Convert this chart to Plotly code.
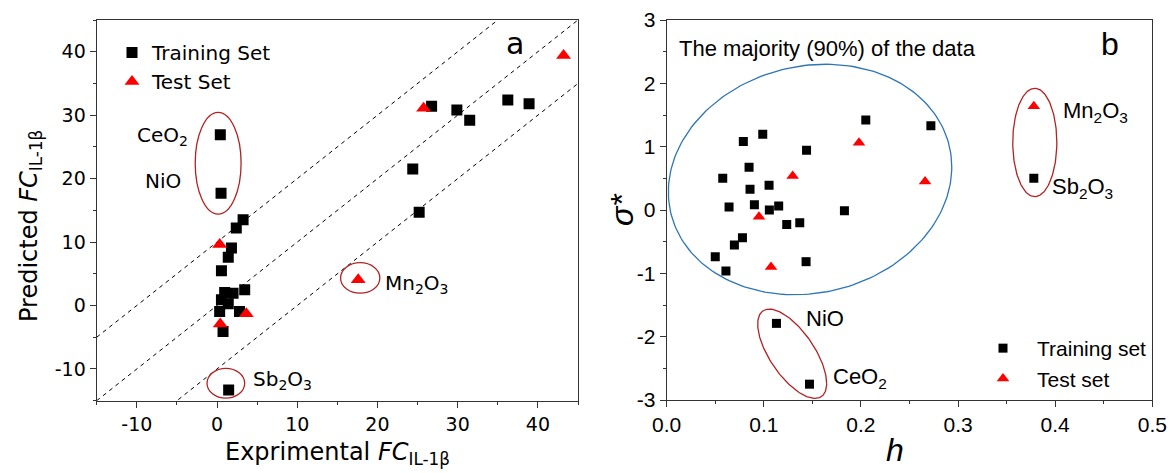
import numpy as np
import plotly.graph_objects as go

# ---------------- Panel a data ----------------
a_train_x = [0.41, 0.5, 3.25, 2.4, 1.8, 1.4, 0.55, 3.45, 2.0, 0.95, 0.55, 1.4, 0.33, 2.8, 0.75, 1.45,
             26.75, 29.9, 31.5, 36.25, 38.9, 24.4, 25.2]
a_train_y = [26.9, 17.7, 13.5, 12.2, 9.05, 7.6, 5.5, 2.5, 1.95, 2.05, 0.9, 0.27, -0.95, -0.95, -4.1, -13.3,
             31.4, 30.8, 29.2, 32.4, 31.8, 21.5, 14.7]
a_test_x = [0.33, 3.65, 0.4, 17.6, 25.75, 43.2]
a_test_y = [9.6, -1.3, -2.9, 4.05, 31.1, 39.4]
a_line_offsets = [10, 0, -10]
a_line_x = [-15, 45]
a_ticks = [-10, 0, 10, 20, 30, 40]
a_ticktext = ["-10", "0", "10", "20", "30", "40"]

# ---------------- Panel b data ----------------
b_train_h = [0.0989, 0.0789, 0.144, 0.0848, 0.0577, 0.0858, 0.1054, 0.0642, 0.0903, 0.1057, 0.1153,
             0.1236, 0.137, 0.078, 0.0697, 0.050, 0.061, 0.1435, 0.205, 0.272, 0.183,
             0.378, 0.113, 0.147]
b_train_s = [1.195, 1.08, 0.943, 0.674, 0.50, 0.327, 0.39, 0.047, 0.084, 0.0, 0.063,
             -0.23, -0.2, -0.44, -0.553, -0.737, -0.963, -0.816, 1.42, 1.33, -0.01,
             0.50, -1.79, -2.75]
b_test_h = [0.1297, 0.095, 0.1074, 0.198, 0.266, 0.378]
b_test_s = [0.537, -0.105, -0.9, 1.06, 0.45, 1.64]
b_xticks = [0, 0.1, 0.2, 0.3, 0.4, 0.5]
b_xticktext = ["0.0", "0.1", "0.2", "0.3", "0.4", "0.5"]
b_yticks = [-3, -2, -1, 0, 1, 2, 3]
b_yticktext = ["-3", "-2", "-1", "0", "1", "2", "3"]

FONT_A = "DejaVu Sans"
FONT_B = "Liberation Sans, Arial"

fig = go.Figure()

# dashed reference lines (panel a)
for off in a_line_offsets:
    fig.add_trace(go.Scatter(x=a_line_x, y=[v + off for v in a_line_x], mode="lines",
                             line=dict(color="black", width=1, dash="4px,4px"),
                             showlegend=False, hoverinfo="skip", xaxis="x", yaxis="y"))

fig.add_trace(go.Scatter(x=a_train_x, y=a_train_y, mode="markers", name="Training Set",
                         marker=dict(symbol="square", size=11, color="black"),
                         xaxis="x", yaxis="y", legend="legend"))
fig.add_trace(go.Scatter(x=a_test_x, y=a_test_y, mode="markers", name="Test Set",
                         marker=dict(symbol="triangle-up", size=13, color="#ff0000"),
                         xaxis="x", yaxis="y", legend="legend"))


def ellipse_trace(c, u, v, color, xa, ya):
    t = np.linspace(0, 2 * np.pi, 200)
    x = c[0] + u[0] * np.cos(t) + v[0] * np.sin(t)
    y = c[1] + u[1] * np.cos(t) + v[1] * np.sin(t)
    return go.Scatter(x=x, y=y, mode="lines", line=dict(color=color, width=1.3),
                      showlegend=False, hoverinfo="skip", xaxis=xa, yaxis=ya)


# panel b ellipses
fig.add_trace(ellipse_trace((0.1476, 0.482), (0.1459, 0.1975), (0.0, 1.809), "#2e75b6", "x2", "y2"))
fig.add_trace(ellipse_trace((0.1292, -2.27), (0.0355, -0.4676), (0.0, 0.528), "#b22222", "x2", "y2"))
fig.add_trace(ellipse_trace((0.379, 1.066), (0.0227, 0.0), (0.0, 0.856), "#b22222", "x2", "y2"))

fig.add_trace(go.Scatter(x=b_train_h, y=b_train_s, mode="markers", name="Training set",
                         marker=dict(symbol="square", size=9, color="black"),
                         xaxis="x2", yaxis="y2", legend="legend2"))
fig.add_trace(go.Scatter(x=b_test_h, y=b_test_s, mode="markers", name="Test set",
                         marker=dict(symbol="triangle-up", size=11, color="#ff0000"),
                         xaxis="x2", yaxis="y2", legend="legend2"))

# panel a ellipses (axis aligned)
for (cx, cy, rx, ry) in [(0.14, 22.43, 2.86, 8.01), (1.1, -12.25, 2.35, 2.35), (17.85, 4.35, 2.45, 2.4)]:
    fig.add_shape(type="circle", xref="x", yref="y", x0=cx - rx, x1=cx + rx, y0=cy - ry, y1=cy + ry,
                  line=dict(color="#b22222", width=1.3))

axis_common = dict(showline=True, linecolor="#333", linewidth=1.3, mirror=True, ticks="outside",
                   ticklen=6, tickwidth=1.3, tickcolor="#333", showgrid=False, zeroline=False,
                   automargin=False)

W, H = 1173, 473

fig.update_layout(
    width=W, height=H, margin=dict(l=0, r=0, t=0, b=0, autoexpand=False),
    paper_bgcolor="white", plot_bgcolor="white",
    xaxis=dict(domain=[96.7 / W, 578 / W], range=[-15, 45], tickvals=a_ticks, ticktext=a_ticktext,
               minor=dict(ticks="outside", ticklen=3, dtick=5, tickcolor="#333"),
               tickfont=dict(family=FONT_A, size=19, color="black"), anchor="y", **axis_common),
    yaxis=dict(domain=[1 - 400.7 / H, 1 - 20 / H], range=[-15, 45], tickvals=a_ticks, ticktext=a_ticktext,
               minor=dict(ticks="outside", ticklen=3, dtick=5, tickcolor="#333"),
               tickfont=dict(family=FONT_A, size=19, color="black"), anchor="x", **axis_common),
    xaxis2=dict(domain=[666.7 / W, 1152.3 / W], range=[0, 0.5], tickvals=b_xticks, ticktext=b_xticktext,
                minor=dict(ticks="outside", ticklen=3, dtick=0.05, tickcolor="#333"),
                tickfont=dict(family=FONT_B, size=21, color="black"), anchor="y2", **axis_common),
    yaxis2=dict(domain=[1 - 400 / H, 1 - 20 / H], range=[-3, 3], tickvals=b_yticks, ticktext=b_yticktext,
                minor=dict(ticks="outside", ticklen=3, dtick=0.5, tickcolor="#333"),
                tickfont=dict(family=FONT_B, size=21, color="black"), anchor="x2", **axis_common),
    legend=dict(x=112 / W, y=1 - 33 / H, xanchor="left", yanchor="top",
                bgcolor="rgba(0,0,0,0)", font=dict(family=FONT_A, size=20, color="black")),
    legend2=dict(x=1152 / W, y=1 - 399 / H, xanchor="right", yanchor="bottom", itemwidth=58,
                 bgcolor="rgba(0,0,0,0)", font=dict(family=FONT_B, size=21, color="black")),
)


def ann(x, y, text, size, family, xanchor="center", yanchor="middle", angle=0):
    fig.add_annotation(x=x / W, y=1 - y / H, xref="paper", yref="paper", text=text, showarrow=False,
                       font=dict(family=family, size=size, color="black"),
                       xanchor=xanchor, yanchor=yanchor, textangle=angle)


# panel a labels
ann(162, 136, "CeO<sub>2</sub>", 20, FONT_A)
ann(163, 181, "NiO", 20, FONT_A)
ann(383, 284, "Mn<sub>2</sub>O<sub>3</sub>", 20, FONT_A, xanchor="left")
ann(251, 380, "Sb<sub>2</sub>O<sub>3</sub>", 20, FONT_A, xanchor="left")
ann(515, 44, "a", 30, FONT_A)
ann(337, 453, "Exprimental <i>FC</i><sub>IL-1β</sub>", 24, FONT_A)
ann(30, 226, "Predicted <i>FC</i><sub>IL-1β</sub>", 24, FONT_A, angle=-90)

# panel b labels
ann(677, 48, "The majority (90%) of the data", 22, FONT_B, xanchor="left")
ann(1110, 44, "b", 32, FONT_B)
ann(1061, 112, "Mn<sub>2</sub>O<sub>3</sub>", 22, FONT_B, xanchor="left")
ann(1050, 188, "Sb<sub>2</sub>O<sub>3</sub>", 22, FONT_B, xanchor="left")
ann(804, 318, "NiO", 22, FONT_B, xanchor="left")
ann(831, 378, "CeO<sub>2</sub>", 22, FONT_B, xanchor="left")
ann(895, 450, "<i>h</i>", 32, FONT_B)
ann(622, 210, "<i>σ*</i>", 32, FONT_B, angle=-90)

fig.write_html("out.html", config={"displayModeBar": False},
               post_script="document.body.style.margin='0';document.body.style.overflow='hidden';")
